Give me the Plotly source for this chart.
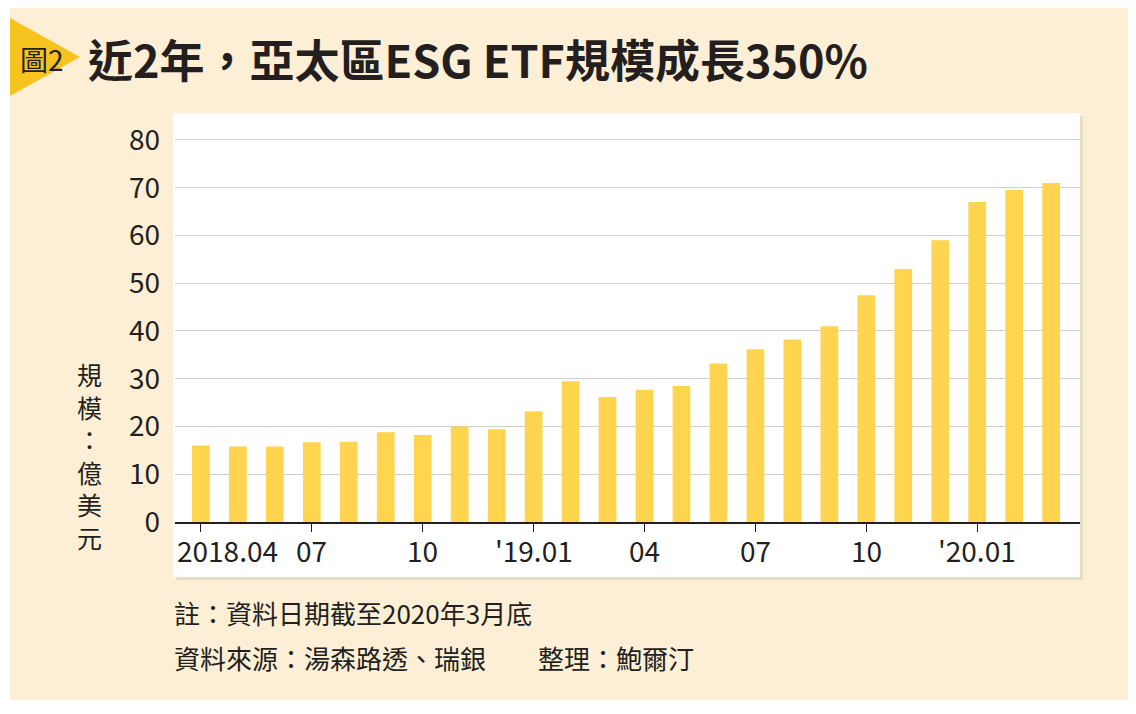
import plotly.graph_objects as go

months = ["2018.04","05","06","07","08","09","10","11","12","'19.01","02","03","04","05","06","07","08","09","10","11","12","'20.01","02","03"]
values = [16.0, 15.8, 15.8, 16.7, 16.8, 18.8, 18.2, 20.0, 19.4, 23.2, 29.5, 26.2, 27.7, 28.5, 33.2, 36.2, 38.2, 41.0, 47.5, 53.0, 59.0, 67.0, 69.5, 71.0]
label_idx = [0, 3, 6, 9, 12, 15, 18, 21]
label_text = ["2018.04", "07", "10", "'19.01", "04", "07", "10", "'20.01"]
y_ticks = [0, 10, 20, 30, 40, 50, 60, 70, 80]

OFF = 8
W, H = 1136, 714
L, R, T, B = 175 - OFF, 1080 - OFF, 113 - OFF, 522 - OFF
FONT = "Noto Sans CJK TC"
x = list(range(len(values)))

fig = go.Figure(go.Bar(x=x, y=values, marker=dict(color="#FFD54F", line=dict(width=0)), width=0.48))

def px(xp):  # target pixel -> paper x
    return (xp - OFF - L) / (R - L)
def py(yp):  # target pixel -> paper y
    return (B - (yp - OFF)) / (B - T)

shapes = [
    dict(type="rect", xref="paper", yref="paper", x0=px(10), x1=px(1130), y0=py(700), y1=py(0),
         fillcolor="#FCEFD6", line=dict(width=0), layer="below"),
    dict(type="rect", xref="paper", yref="paper", x0=px(176), x1=px(1083), y0=py(580), y1=py(116),
         fillcolor="#E8DCC4", line=dict(width=0), layer="below"),
    dict(type="rect", xref="paper", yref="paper", x0=px(173), x1=px(1080), y0=py(577), y1=py(113),
         fillcolor="white", line=dict(width=0), layer="below"),
    dict(type="path", xref="paper", yref="paper",
         path=f"M {px(10)},{py(18)} L {px(80)},{py(57)} L {px(10)},{py(96)} Z",
         fillcolor="#F7C41F", line=dict(width=0), layer="below"),
]

ann = []
for i, t in zip(label_idx, label_text):
    ann.append(dict(x=i if i else -0.7, y=0, xref="x", yref="y", text=t, showarrow=False,
                    xanchor="left" if i == 0 else "center", yanchor="top", yshift=-6,
                    font=dict(family=FONT, size=28, color="#231F20")))
ann += [
    dict(x=px(18), y=py(59), xref="paper", yref="paper", text="圖2", showarrow=False,
         xanchor="left", yanchor="middle", font=dict(family=FONT, size=28, color="#231F20")),
    dict(x=px(86), y=py(58), xref="paper", yref="paper", text="<b>近2年，亞太區ESG ETF規模成長350%</b>",
         showarrow=False, xanchor="left", yanchor="middle", font=dict(family=FONT, size=45, color="#231F20")),
    dict(x=px(75), y=py(455), xref="paper", yref="paper", text="規<br>模<br>：<br>億<br>美<br>元",
         showarrow=False, yanchor="middle", font=dict(family=FONT, size=25, color="#231F20")),
    dict(x=px(172), y=py(612), xref="paper", yref="paper", text="註：資料日期截至2020年3月底",
         showarrow=False, xanchor="left", yanchor="middle", font=dict(family=FONT, size=26, color="#231F20")),
    dict(x=px(172), y=py(657), xref="paper", yref="paper",
         text="資料來源：湯森路透、瑞銀　　整理：鮑爾汀",
         showarrow=False, xanchor="left", yanchor="middle", font=dict(family=FONT, size=26, color="#231F20")),
]

fig.update_layout(
    width=W, height=H, margin=dict(l=L, r=W - R, t=T, b=H - B),
    paper_bgcolor="white", plot_bgcolor="rgba(0,0,0,0)",
    showlegend=False, shapes=shapes, annotations=ann,
    xaxis=dict(range=[-0.7, 23.78], tickvals=label_idx, ticktext=[""] * len(label_idx),
               ticks="outside", ticklen=8, tickcolor="#231F20", showgrid=False,
               showline=True, linecolor="#231F20", linewidth=2, zeroline=False),
    yaxis=dict(range=[0, 85.65], tickvals=y_ticks, showgrid=True, gridcolor="#CFCFCF", gridwidth=1,
               zeroline=False, showline=False, ticks="", ticklabelstandoff=14,
               tickfont=dict(family=FONT, size=28, color="#231F20")),
)
fig.write_html("out.html")
